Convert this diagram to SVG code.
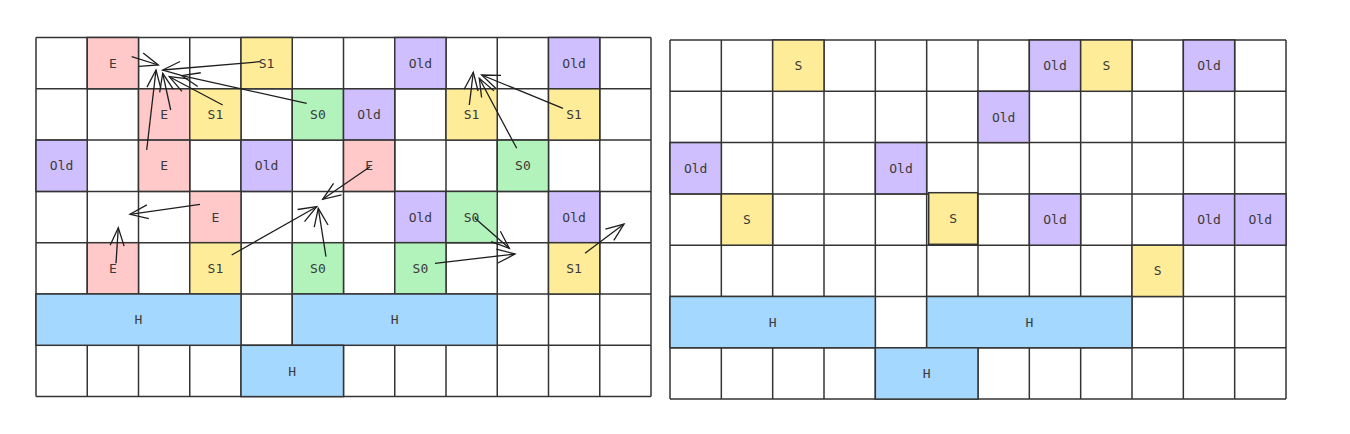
<svg xmlns="http://www.w3.org/2000/svg" width="1350" height="434" viewBox="0 0 1350 434">
<defs>
<style>
.grid{fill:none;stroke:#343434;stroke-width:1.5}
.c{stroke:#343434;stroke-width:1.5}
.e{fill:#ffc9c9}.s{fill:#ffec99}.g{fill:#b2f2bb}.o{fill:#d0bfff}.h{fill:#a5d8ff}
text{font-family:"DejaVu Sans Mono","Liberation Mono",monospace;font-size:13px;fill:#3a3a3a;text-anchor:middle;dominant-baseline:central}
.ar line{stroke:#1e1e1e;stroke-width:1.3;fill:none}
</style>
<marker id="ah" viewBox="-20 -10 22 20" refX="0" refY="0" markerWidth="22" markerHeight="20" markerUnits="userSpaceOnUse" orient="auto">
<path d="M-18,-7 L0,0 L-18,7" fill="none" stroke="#1e1e1e" stroke-width="1.3"/>
</marker>
</defs>
<rect width="1350" height="434" fill="#ffffff"/>

<!-- LEFT GRID -->
<g id="grid-left">
<rect x="36" y="37.5" width="615" height="359.1" fill="#fff"/>
<path class="grid" d="M36,37.5V396.6M87.25,37.5V396.6M138.5,37.5V396.6M189.75,37.5V396.6M241,37.5V396.6M292.25,37.5V396.6M343.5,37.5V396.6M394.75,37.5V396.6M446,37.5V396.6M497.25,37.5V396.6M548.5,37.5V396.6M599.75,37.5V396.6M651,37.5V396.6M36,37.5H651M36,88.8H651M36,140.1H651M36,191.4H651M36,242.7H651M36,294H651M36,345.3H651M36,396.6H651"/>
</g>
<g id="L-r0c1"><rect class="c e" x="87.25" y="37.5" width="51.25" height="51.3"/><text x="112.9" y="63.2">E</text></g>
<g id="L-r0c4"><rect class="c s" x="241" y="37.5" width="51.25" height="51.3"/><text x="266.6" y="63.2">S1</text></g>
<g id="L-r0c7"><rect class="c o" x="394.75" y="37.5" width="51.25" height="51.3"/><text x="420.4" y="63.2">Old</text></g>
<g id="L-r0c10"><rect class="c o" x="548.5" y="37.5" width="51.25" height="51.3"/><text x="574.1" y="63.2">Old</text></g>

<g id="L-r1c2"><rect class="c e" x="138.5" y="88.8" width="51.25" height="51.3"/><text x="164.1" y="114.5">E</text></g>
<g id="L-r1c3"><rect class="c s" x="189.75" y="88.8" width="51.25" height="51.3"/><text x="215.4" y="114.5">S1</text></g>
<g id="L-r1c5"><rect class="c g" x="292.25" y="88.8" width="51.25" height="51.3"/><text x="317.9" y="114.5">S0</text></g>
<g id="L-r1c6"><rect class="c o" x="343.5" y="88.8" width="51.25" height="51.3"/><text x="369.1" y="114.5">Old</text></g>
<g id="L-r1c8"><rect class="c s" x="446" y="88.8" width="51.25" height="51.3"/><text x="471.6" y="114.5">S1</text></g>
<g id="L-r1c10"><rect class="c s" x="548.5" y="88.8" width="51.25" height="51.3"/><text x="574.1" y="114.5">S1</text></g>

<g id="L-r2c0"><rect class="c o" x="36" y="140.1" width="51.25" height="51.3"/><text x="61.6" y="165.8">Old</text></g>
<g id="L-r2c2"><rect class="c e" x="138.5" y="140.1" width="51.25" height="51.3"/><text x="164.1" y="165.8">E</text></g>
<g id="L-r2c4"><rect class="c o" x="241" y="140.1" width="51.25" height="51.3"/><text x="266.6" y="165.8">Old</text></g>
<g id="L-r2c6"><rect class="c e" x="343.5" y="140.1" width="51.25" height="51.3"/><text x="369.1" y="165.8">E</text></g>
<g id="L-r2c9"><rect class="c g" x="497.25" y="140.1" width="51.25" height="51.3"/><text x="522.9" y="165.8">S0</text></g>

<g id="L-r3c3"><rect class="c e" x="189.75" y="191.4" width="51.25" height="51.3"/><text x="215.4" y="217.1">E</text></g>
<g id="L-r3c7"><rect class="c o" x="394.75" y="191.4" width="51.25" height="51.3"/><text x="420.4" y="217.1">Old</text></g>
<g id="L-r3c8"><rect class="c g" x="446" y="191.4" width="51.25" height="51.3"/><text x="471.6" y="217.1">S0</text></g>
<g id="L-r3c10"><rect class="c o" x="548.5" y="191.4" width="51.25" height="51.3"/><text x="574.1" y="217.1">Old</text></g>

<g id="L-r4c1"><rect class="c e" x="87.25" y="242.7" width="51.25" height="51.3"/><text x="112.9" y="268.4">E</text></g>
<g id="L-r4c3"><rect class="c s" x="189.75" y="242.7" width="51.25" height="51.3"/><text x="215.4" y="268.4">S1</text></g>
<g id="L-r4c5"><rect class="c g" x="292.25" y="242.7" width="51.25" height="51.3"/><text x="317.9" y="268.4">S0</text></g>
<g id="L-r4c7"><rect class="c g" x="394.75" y="242.7" width="51.25" height="51.3"/><text x="420.4" y="268.4">S0</text></g>
<g id="L-r4c10"><rect class="c s" x="548.5" y="242.7" width="51.25" height="51.3"/><text x="574.1" y="268.4">S1</text></g>

<g id="L-H1"><rect class="c h" x="36" y="294" width="205" height="51.3"/><text x="138.5" y="319.7">H</text></g>
<g id="L-H2"><rect class="c h" x="292.25" y="294" width="205" height="51.3"/><text x="394.75" y="319.7">H</text></g>
<g id="L-H3"><rect class="c h" x="241" y="345.3" width="102.5" height="51.3"/><text x="292.25" y="371">H</text></g>

<!-- RIGHT GRID -->
<g id="grid-right">
<rect x="670" y="40" width="616" height="359.1" fill="#fff"/>
<path class="grid" d="M670,40V399.1M721.33,40V399.1M772.67,40V399.1M824,40V399.1M875.33,40V399.1M926.67,40V399.1M978,40V399.1M1029.33,40V399.1M1080.67,40V399.1M1132,40V399.1M1183.33,40V399.1M1234.67,40V399.1M1286,40V399.1M670,40H1286M670,91.3H1286M670,142.6H1286M670,193.9H1286M670,245.2H1286M670,296.5H1286M670,347.8H1286M670,399.1H1286"/>
</g>
<g id="R-r0c2"><rect class="c s" x="772.67" y="40" width="51.33" height="51.3"/><text x="798.3" y="65.7">S</text></g>
<g id="R-r0c7"><rect class="c o" x="1029.33" y="40" width="51.33" height="51.3"/><text x="1055" y="65.7">Old</text></g>
<g id="R-r0c8"><rect class="c s" x="1080.67" y="40" width="51.33" height="51.3"/><text x="1106.3" y="65.7">S</text></g>
<g id="R-r0c10"><rect class="c o" x="1183.33" y="40" width="51.33" height="51.3"/><text x="1209" y="65.7">Old</text></g>

<g id="R-r1c6"><rect class="c o" x="978" y="91.3" width="51.33" height="51.3"/><text x="1003.7" y="117">Old</text></g>

<g id="R-r2c0"><rect class="c o" x="670" y="142.6" width="51.33" height="51.3"/><text x="695.7" y="168.3">Old</text></g>
<g id="R-r2c4"><rect class="c o" x="875.33" y="142.6" width="51.33" height="51.3"/><text x="901" y="168.3">Old</text></g>

<g id="R-r3c1"><rect class="c s" x="721.33" y="193.9" width="51.33" height="51.3"/><text x="747" y="219.6">S</text></g>
<g id="R-r3c5"><rect class="c s" x="928.7" y="192.7" width="49" height="51.6" stroke-width="1.8"/><text x="953.2" y="218.5">S</text></g>
<g id="R-r3c7"><rect class="c o" x="1029.33" y="193.9" width="51.33" height="51.3"/><text x="1055" y="219.6">Old</text></g>
<g id="R-r3c10"><rect class="c o" x="1183.33" y="193.9" width="51.33" height="51.3"/><text x="1209" y="219.6">Old</text></g>
<g id="R-r3c11"><rect class="c o" x="1234.67" y="193.9" width="51.33" height="51.3"/><text x="1260.3" y="219.6">Old</text></g>

<g id="R-r4c9"><rect class="c s" x="1132" y="245.2" width="51.33" height="51.3"/><text x="1157.7" y="270.9">S</text></g>

<g id="R-H1"><rect class="c h" x="670" y="296.5" width="205.33" height="51.3"/><text x="772.7" y="322.2">H</text></g>
<g id="R-H2"><rect class="c h" x="926.67" y="296.5" width="205.33" height="51.3"/><text x="1029.3" y="322.2">H</text></g>
<g id="R-H3"><rect class="c h" x="875.33" y="347.8" width="102.67" height="51.3"/><text x="926.7" y="373.5">H</text></g>

<!-- CONNECTORS -->
<g id="connectors" class="ar">
<line x1="131.7" y1="56.7" x2="158.3" y2="65" marker-end="url(#ah)"/>
<line x1="260" y1="61.7" x2="162.7" y2="70" marker-end="url(#ah)"/>
<line x1="146.7" y1="150" x2="156" y2="70" marker-end="url(#ah)"/>
<line x1="170.7" y1="110" x2="162.7" y2="73.3" marker-end="url(#ah)"/>
<line x1="222.7" y1="105" x2="169.3" y2="76.7" marker-end="url(#ah)"/>
<line x1="306.7" y1="103.3" x2="181.7" y2="75.7" marker-end="url(#ah)"/>
<line x1="200" y1="204.3" x2="130" y2="214.3" marker-end="url(#ah)"/>
<line x1="116" y1="263.3" x2="118.3" y2="227.7" marker-end="url(#ah)"/>
<line x1="370" y1="166.7" x2="322.7" y2="199.3" marker-end="url(#ah)"/>
<line x1="231.7" y1="255" x2="316.7" y2="206.7" marker-end="url(#ah)"/>
<line x1="326" y1="256.7" x2="318.3" y2="208.3" marker-end="url(#ah)"/>
<line x1="469.3" y1="105" x2="473.3" y2="72.3" marker-end="url(#ah)"/>
<line x1="516.7" y1="148.3" x2="479.3" y2="78.3" marker-end="url(#ah)"/>
<line x1="563" y1="108.3" x2="481.7" y2="75" marker-end="url(#ah)"/>
<line x1="475" y1="218.3" x2="509.3" y2="248.3" marker-end="url(#ah)"/>
<line x1="435" y1="263.3" x2="515" y2="254" marker-end="url(#ah)"/>
<line x1="585" y1="253.3" x2="624" y2="224" marker-end="url(#ah)"/>
</g>
</svg>
